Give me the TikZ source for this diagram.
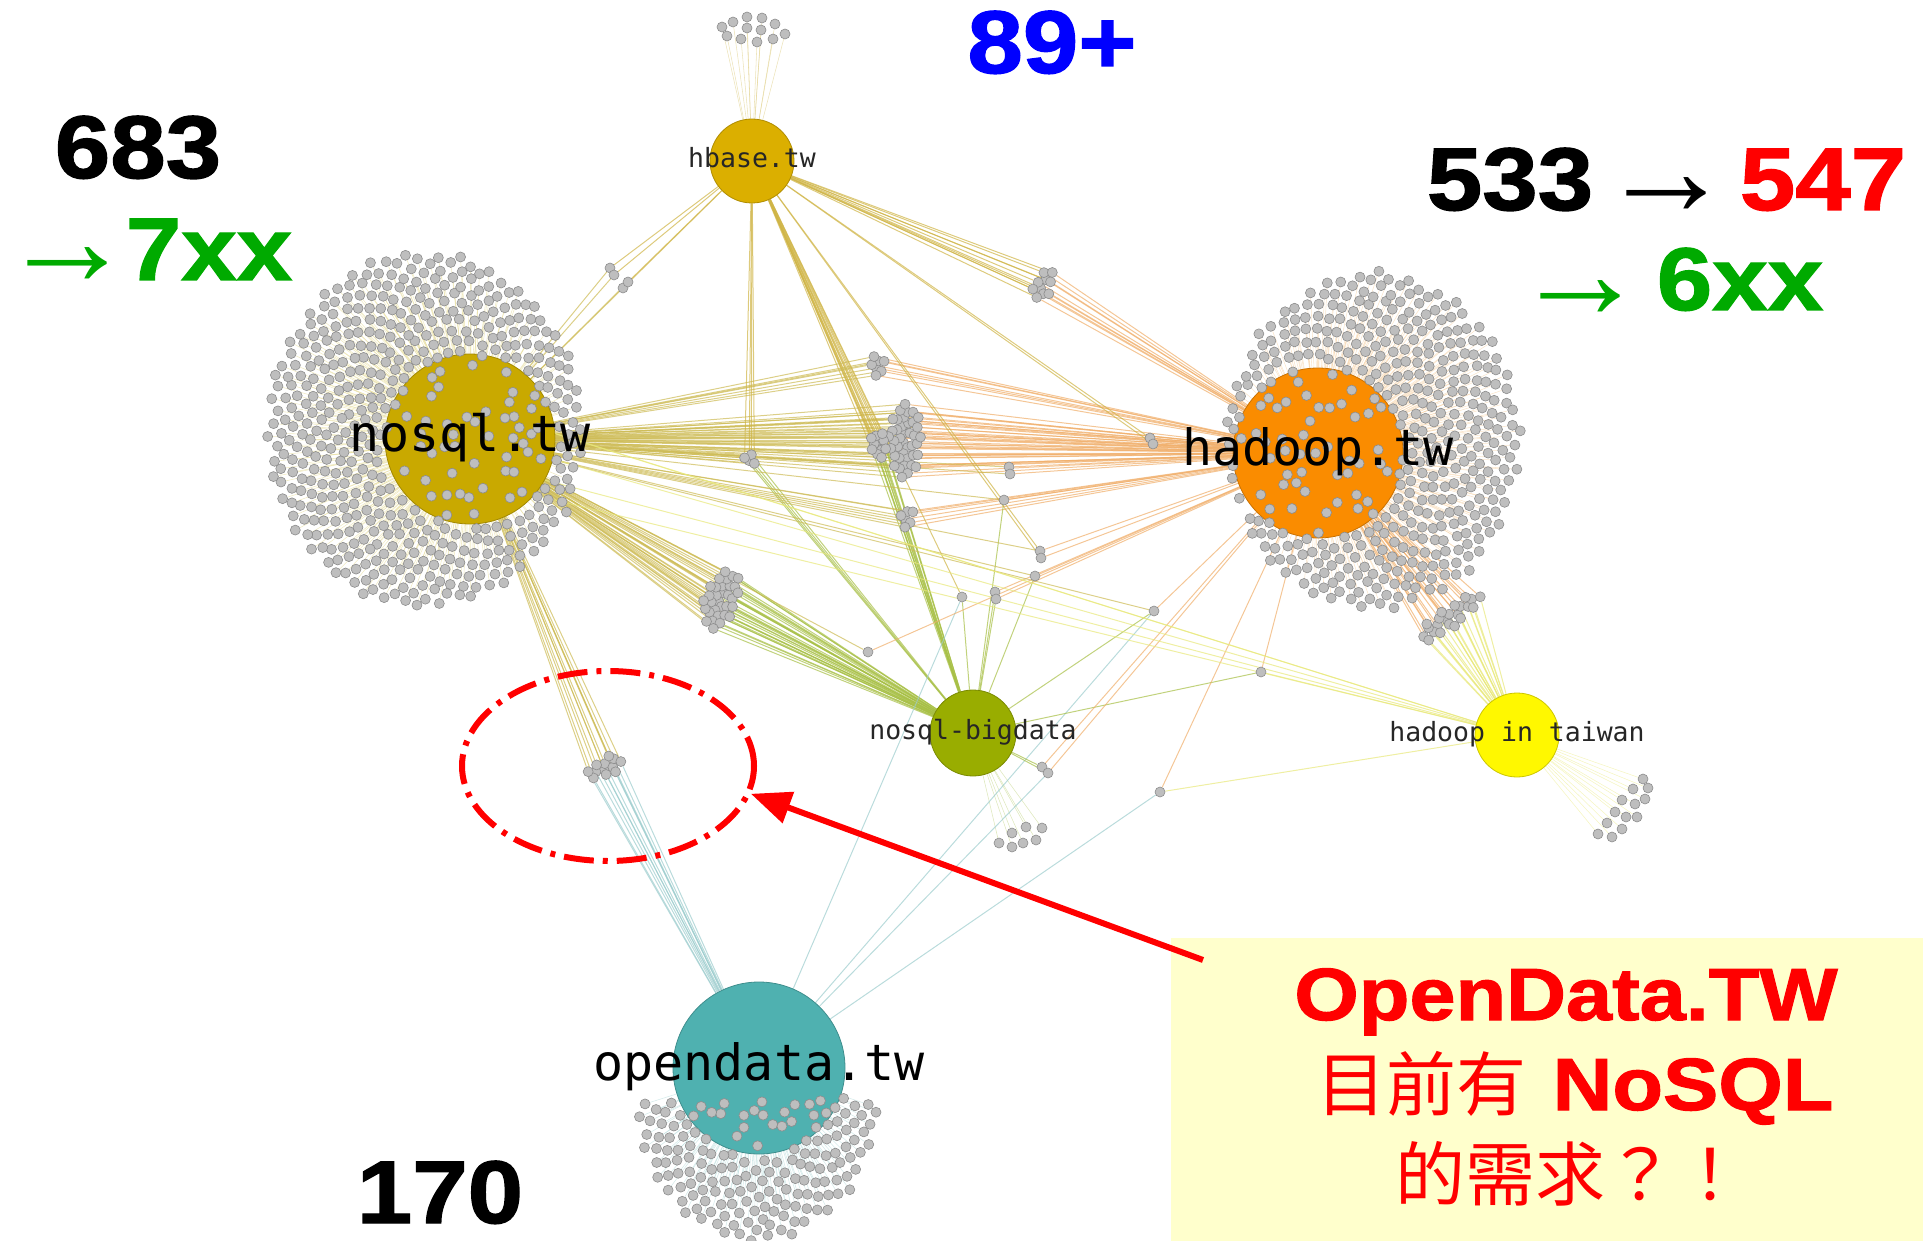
\documentclass[tikz,border=0pt]{standalone}
\usepackage{fontspec}
\setmainfont{Liberation Sans}
\newfontfamily\heavyfont[FakeStretch=1.12,FakeBold=1.5]{Liberation Sans}
\newfontfamily\labelfont{DejaVu Sans Mono}
\newfontfamily\arrowfont{Liberation Serif}
\newfontfamily\cjkfont{Noto Sans CJK TC}
\usetikzlibrary{shapes.geometric,arrows.meta}
\definecolor{hbaseGold}{HTML}{DBAF00}
\definecolor{nosqlOlive}{HTML}{C9A900}
\definecolor{hadoopOrange}{HTML}{FA8C00}
\definecolor{bigdataGreen}{HTML}{99AD00}
\definecolor{taiwanYellow}{HTML}{FFF800}
\definecolor{opendataTeal}{HTML}{4FB1B0}
\definecolor{memberGray}{HTML}{BEBEBE}
\definecolor{memberEdge}{HTML}{8C8C8C}
\definecolor{nqFan}{HTML}{E6DC9A}
\definecolor{hdFan}{HTML}{F6D3A8}
\definecolor{odFan}{HTML}{B8DCDC}
\definecolor{hbFan}{HTML}{E0D08A}
\definecolor{htFan}{HTML}{EEEE99}
\definecolor{bdFan}{HTML}{C8D890}
\definecolor{nqLine}{HTML}{CDBB55}
\definecolor{hdLine}{HTML}{F0AE6A}
\definecolor{hbLine}{HTML}{CFB445}
\definecolor{bdLine}{HTML}{A7BF45}
\definecolor{htLine}{HTML}{E8E87A}
\definecolor{odLine}{HTML}{9CCCCD}
\definecolor{numGreen}{HTML}{00AA00}
\definecolor{noteYellow}{HTML}{FFFFCC}
\pgfdeclarelayer{links}
\pgfsetlayers{links,main}
\tikzset{
  member/.style={circle,inner sep=0pt,minimum size=10pt,fill=memberGray,draw=memberEdge,line width=0.6pt},
  hub/.style={circle,inner sep=0pt,fill=#1,draw=#1!80!black,line width=0.8pt},
  fanline/.style={draw=#1,line width=0.55pt,opacity=0.6},
  bundle/.style={draw=#1,line width=1pt,opacity=0.7},
  biglbl/.style={font=\labelfont\fontsize{50}{50}\selectfont,inner sep=0pt,text height=37.5pt,text depth=12.5pt},
  smalllbl/.style={font=\labelfont\fontsize{26.5}{26.5}\selectfont,inner sep=0pt,text height=20pt,text depth=6.6pt,text=black!85},
  bignum/.style={font=\heavyfont\bfseries\fontsize{89}{89}\selectfont,inner sep=0pt,anchor=base},
  arrowtxt/.style={font=\arrowfont\fontsize{134}{134}\selectfont,inner sep=0pt,anchor=base},
  notetxt/.style={text=red,inner sep=0pt,anchor=base},
  callarrow/.style={draw=red,line width=6pt,-{Triangle[length=40pt,width=32pt]}}
}
% clumps of shared members: centre/radii/turn/count/name/groups
\def\clumps{
  905/440/17/38/0/40/ca/{nosqltw/nqLine,hadooptw/hdLine},
  879/445/9/14/0/12/cb/{hbase/hbLine,bigdata/bdLine},
  878/366/9/11/0/7/cc/{nosqltw/nqLine,hadooptw/hdLine},
  751/459/7/7/0/4/cd/{hbase/hbLine,nosqltw/nqLine,bigdata/bdLine},
  907/517/8/11/0/6/ce/{nosqltw/nqLine,hadooptw/hdLine},
  1043/286/10/18/-20/10/cf/{hbase/hbLine,hadooptw/hdLine},
  721/599/17/31/-20/32/cg/{nosqltw/nqLine,bigdata/bdLine},
  606/767/21/10/30/12/ch/{nosqltw/nqLine,opendata/odLine},
  1450/617/38/11/36/22/ci/{hadooptw/hdLine,hit/htLine}}
% single shared members
\def\singles{
  610/268/sa1/{hbase/hbLine,nosqltw/nqLine},
  614/275/sa2/{hbase/hbLine,nosqltw/nqLine},
  623/288/sa3/{hbase/hbLine,nosqltw/nqLine},
  628/282/sa4/{hbase/hbLine,nosqltw/nqLine},
  1150/438/sb1/{hbase/hbLine,hadooptw/hdLine},
  1153/444/sb2/{hbase/hbLine,hadooptw/hdLine},
  1009/467/sc1/{nosqltw/nqLine,hadooptw/hdLine},
  1010/474/sc2/{nosqltw/nqLine,hadooptw/hdLine},
  1004/500/sd/{nosqltw/nqLine,hadooptw/hdLine,bigdata/bdLine},
  1040/551/se1/{hbase/hbLine,hadooptw/hdLine,nosqltw/nqLine},
  1041/558/se2/{hbase/hbLine,hadooptw/hdLine},
  1035/576/sf/{nosqltw/nqLine,hadooptw/hdLine,bigdata/bdLine},
  962/597/sg/{bigdata/bdLine,opendata/odLine,hbase/hbLine},
  995/592/sh1/{bigdata/bdLine,hadooptw/hdLine},
  996/599/sh2/{bigdata/bdLine,hadooptw/hdLine},
  868/652/si/{nosqltw/nqLine,hadooptw/hdLine},
  1154/611/sj/{bigdata/bdLine,hadooptw/hdLine,nosqltw/nqLine,opendata/odLine},
  1261/672/sk/{bigdata/bdLine,hadooptw/hdLine,hit/htLine},
  1160/792/sl/{opendata/odLine,hit/htLine,hadooptw/hdLine},
  1042/767/sm1/{bigdata/bdLine,hadooptw/hdLine},
  1048/773/sm2/{bigdata/bdLine,hadooptw/hdLine,opendata/odLine},
  528/452/sn1/{nosqltw/nqLine,hit/htLine},
  514/472/sn2/{nosqltw/nqLine,hit/htLine},
  538/428/sn3/{nosqltw/nqLine,hit/htLine},
  505/418/sn4/{nosqltw/nqLine,hit/htLine},
  522/492/sn5/{nosqltw/nqLine,hit/htLine}}
\begin{document}
\begin{tikzpicture}[x=1pt,y=-1pt]
\useasboundingbox (0,0) rectangle (1923,1241);
\pgfmathsetseed{42}

% group hubs
\node[hub=hbaseGold,minimum size=84pt] (hbase) at (752,161) {};
\node[hub=nosqlOlive,minimum size=170pt] (nosqltw) at (470,439) {};
\node[hub=hadoopOrange,minimum size=170pt] (hadooptw) at (1318,453) {};
\node[hub=bigdataGreen,minimum size=86pt] (bigdata) at (973,733) {};
\node[hub=taiwanYellow,minimum size=84pt] (hit) at (1517,735) {};
\node[hub=opendataTeal,minimum size=172pt] (opendata) at (759,1068) {};

% members of one group only
\foreach \i in {1,...,640}{
  \pgfmathsetmacro\rad{sqrt(\i/640)}
  \pgfmathsetmacro\ang{mod(\i*13.7508,36)*10}
  \pgfmathsetmacro\px{425+158*\rad*cos(\ang)+1.5*rand}
  \pgfmathsetmacro\py{430+178*\rad*sin(\ang)+1.5*rand}
  \pgfmathtruncatemacro\keep{or(veclen(\px-470,\py-439)>86,rnd<0.33)}
  \ifnum\keep=1 \node[member] (nq\i) at (\px,\py) {};\fi
}
\foreach \i in {1,...,560}{
  \pgfmathsetmacro\rad{sqrt(\i/560)}
  \pgfmathsetmacro\ang{mod(\i*13.7508,36)*10}
  \pgfmathsetmacro\px{1373+147*\rad*cos(\ang)+1.5*rand}
  \pgfmathsetmacro\py{441+169*\rad*sin(\ang)+1.5*rand}
  \pgfmathtruncatemacro\keep{or(veclen(\px-1318,\py-453)>86,rnd<0.33)}
  \ifnum\keep=1 \node[member] (hd\i) at (\px,\py) {};\fi
}
\foreach \i in {1,...,400}{
  \pgfmathsetmacro\rad{sqrt(\i/400)}
  \pgfmathsetmacro\ang{mod(\i*13.7508,36)*10}
  \pgfmathsetmacro\px{757+122*\rad*cos(\ang)+1.5*rand}
  \pgfmathsetmacro\py{1092+150*\rad*sin(\ang)+1.5*rand}
  \pgfmathtruncatemacro\keep{and(\py>1098,or(veclen(\px-759,\py-1068)>88,rnd<0.45))}
  \ifnum\keep=1 \node[member] (od\i) at (\px,\py) {};\fi
}
\foreach \px/\py [count=\k] in {722/27,733/22,747/17,762/18,775/24,785/34,773/39,757/42,741/39,727/36,747/28,761/30}
  \node[member] (hb\k) at (\px,\py) {};
\foreach \px/\py [count=\k] in {1643/779,1648/788,1633/789,1645/799,1622/800,1635/804,1615/812,1637/817,1626/817,1607/823,1622/829,1598/834,1612/837}
  \node[member] (ht\k) at (\px,\py) {};
\foreach \px/\py [count=\k] in {1012/833,1026/827,1042/828,999/843,1012/847,1023/843,1036/840}
  \node[member] (bd\k) at (\px,\py) {};

% shared members
\foreach \cx/\cy/\rx/\ry/\rot/\n/\tag/\hubs in \clumps{
  \begin{scope}[shift={(\cx,\cy)},rotate=\rot]
    \foreach \i in {1,...,\n}{
      \pgfmathsetmacro\rad{sqrt((\i-0.5)/\n)}
      \pgfmathsetmacro\ex{\rx*\rad*cos(\i*137.508)}
      \pgfmathsetmacro\ey{\ry*\rad*sin(\i*137.508)}
      \node[member] (\tag\i) at (\ex,\ey) {};
    }
  \end{scope}
}
\foreach \px/\py/\tag/\hubs in \singles
  \node[member] (\tag) at (\px,\py) {};

% memberships
\begin{pgfonlayer}{links}
  \foreach \i in {1,...,640}{\ifcsname pgf@sh@ns@nq\i\endcsname \draw[fanline=nqFan] (nosqltw) -- (nq\i);\fi}
  \foreach \i in {1,...,560}{\ifcsname pgf@sh@ns@hd\i\endcsname \draw[fanline=hdFan] (hadooptw) -- (hd\i);\fi}
  \foreach \i in {1,...,400}{\ifcsname pgf@sh@ns@od\i\endcsname \draw[fanline=odFan] (opendata) -- (od\i);\fi}
  \foreach \k in {1,...,12} \draw[fanline=hbFan] (hbase) -- (hb\k);
  \foreach \k in {1,...,13} \draw[fanline=htFan] (hit) -- (ht\k);
  \foreach \k in {1,...,7} \draw[fanline=bdFan] (bigdata) -- (bd\k);
  \foreach \cx/\cy/\rx/\ry/\rot/\n/\tag/\hubs in \clumps
    \foreach \i in {1,...,\n}
      \foreach \h/\c in \hubs {\draw[bundle=\c] (\h) -- (\tag\i);}
  \foreach \px/\py/\tag/\hubs in \singles
    \foreach \h/\c in \hubs {\draw[bundle=\c] (\h) -- (\tag);}
\end{pgfonlayer}

% hub names
\node[smalllbl] (lbl-hbase) at (hbase) {hbase.tw};
\node[biglbl] (lbl-nosql) at (nosqltw) {nosql.tw};
\node[biglbl] (lbl-hadoop) at (hadooptw) {hadoop.tw};
\node[smalllbl] (lbl-bigdata) at (bigdata) {nosql-bigdata};
\node[smalllbl] (lbl-hit) at (hit) {hadoop in taiwan};
\node[biglbl] (lbl-opendata) at (opendata) {opendata.tw};

% member counts
\node[bignum] (n683) at (138,178) {683};
\node[arrowtxt,text=numGreen] (arr1) at (68,286) {→};
\node[bignum,text=numGreen] (n7xx) at (209,280) {7xx};
\node[bignum,text=blue] (n89) at (1052,73) {89+};
\node[bignum] (n533) at (1510,210) {533};
\node[arrowtxt] (arr2) at (1666,216) {→};
\node[bignum,text=red] (n547) at (1823,210) {547};
\node[arrowtxt,text=numGreen] (arr3) at (1580,319) {→};
\node[bignum,text=numGreen] (n6xx) at (1740,310) {6xx};
\node[bignum] (n170) at (440,1223) {170};

% callout
\node[fill=noteYellow,inner sep=0pt,minimum width=752pt,minimum height=303pt,anchor=north west] (callout) at (1171,938) {};
\node[notetxt,font=\heavyfont\bfseries\fontsize{74}{74}\selectfont] (note1) at (1566,1020) {OpenData.TW};
\node[notetxt] (note2) at (1575,1110) {{\cjkfont\fontsize{70}{70}\selectfont 目前有}\hspace{26pt}{\heavyfont\bfseries\fontsize{74}{74}\selectfont NoSQL}};
\node[notetxt,font=\cjkfont\fontsize{70}{70}\selectfont] (note3) at (1570,1200) {的需求？！};

\node[ellipse,draw=red,line width=6pt,dash pattern=on 30pt off 9pt on 5pt off 9pt,minimum width=292pt,minimum height=190pt,inner sep=0pt] (focus) at (608,766) {};
\coordinate (tail) at (1203,960);
\draw[callarrow] (tail) -- (focus.-11);
\end{tikzpicture}
\end{document}
